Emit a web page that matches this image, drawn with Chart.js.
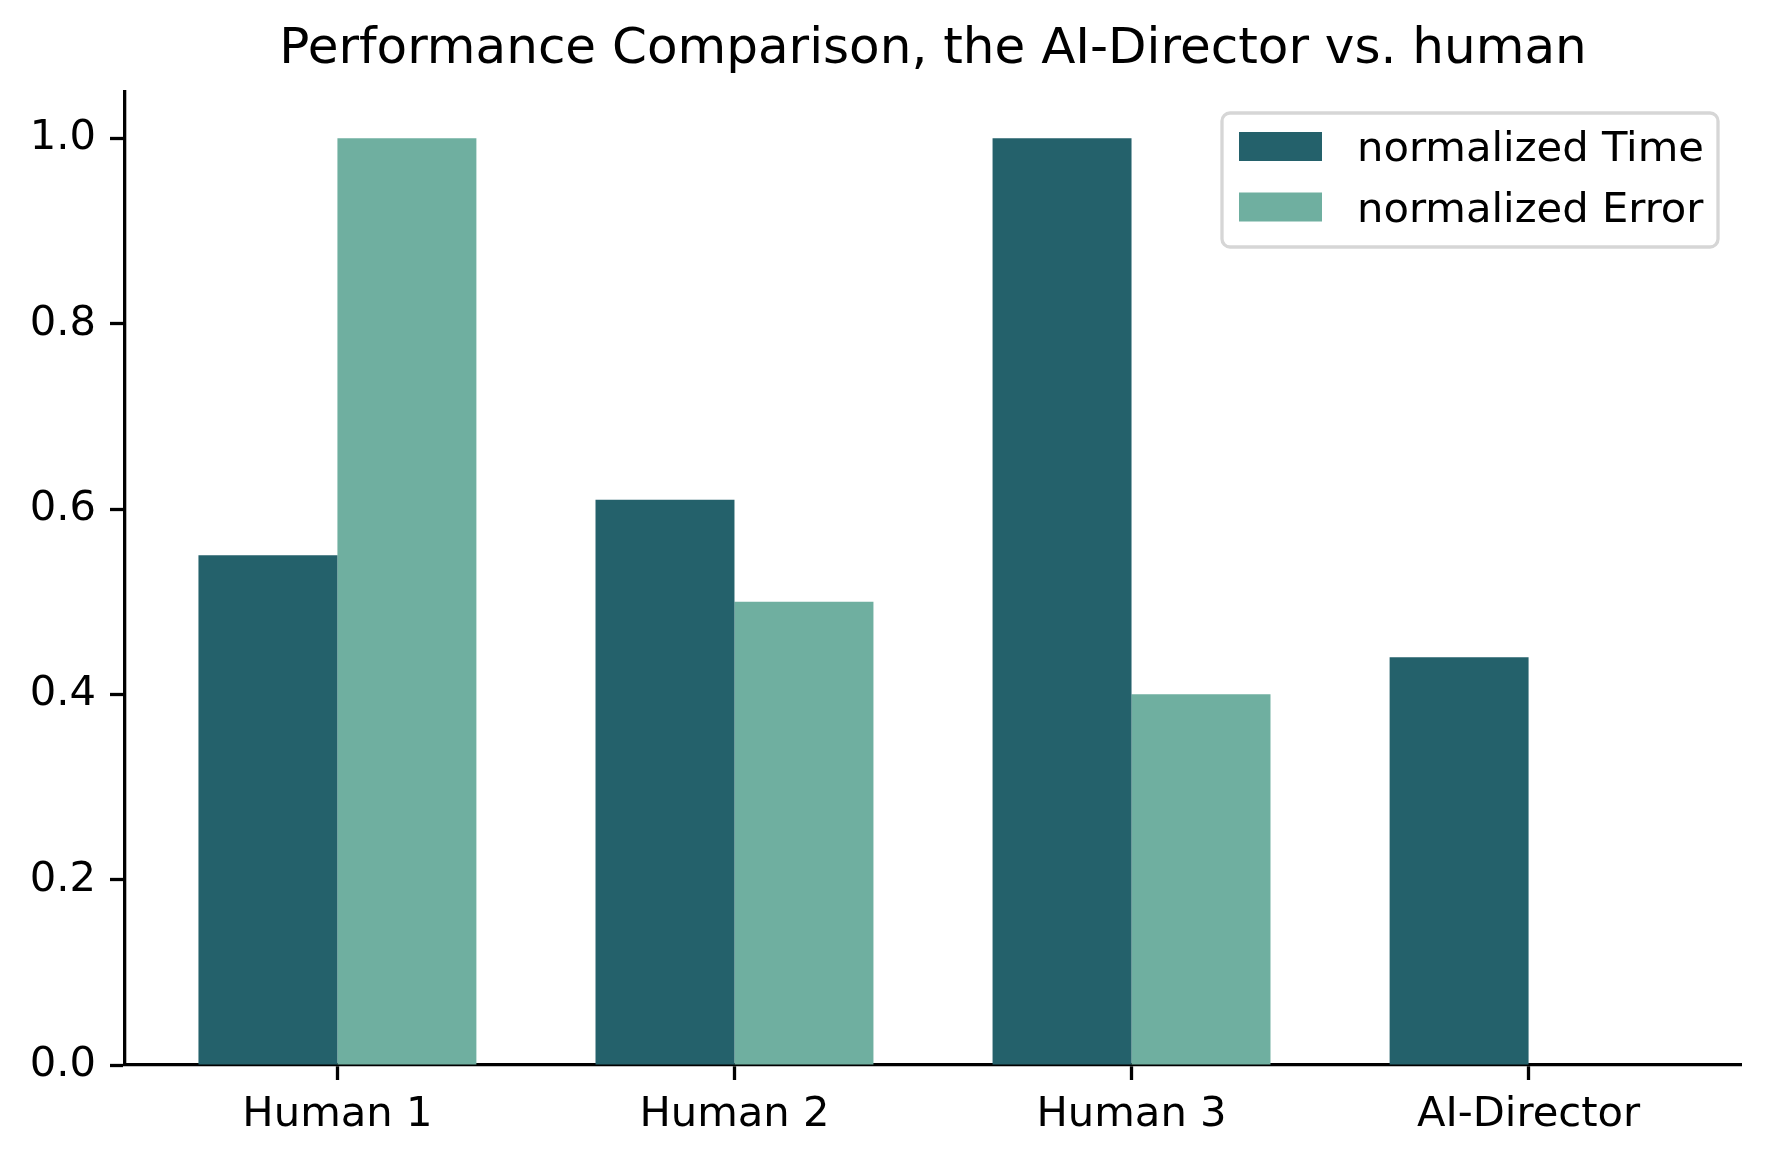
<!DOCTYPE html>
<html>
<head>
<meta charset="utf-8">
<script src="https://cdn.jsdelivr.net/npm/chart.js@4"></script>
<style>
  html, body { margin: 0; padding: 0; background: #fff; }
  #wrap { width: 1769px; height: 1164px; }
</style>
</head>
<body>
<div id="wrap"><canvas id="grafico"></canvas></div>
<script>
// datos
const categorias = ["Human 1", "Human 2", "Human 3", "AI-Director"];
const tiempoNorm = [0.55, 0.61, 1.0, 0.44];
const errorNorm = [1.0, 0.5, 0.4, 0.0];
const ticksY = [0, 0.2, 0.4, 0.6, 0.8, 1.0];

const fuente = "'DejaVu Sans', sans-serif";

function puntos(valores) {
    let res = [];
    for (let i = 0; i < valores.length; i++) {
        res.push({x: i, y: valores[i]});
    }
    return res;
}

// leyenda dentro del area, estilo matplotlib
const leyendaPlugin = {
    id: "leyendaCaja",
    afterDraw(chart) {
        const ctx = chart.ctx;
        const x0 = 1222, y0 = 113, w = 496, h = 134;
        ctx.save();
        ctx.beginPath();
        ctx.roundRect(x0, y0, w, h, 8);
        ctx.fillStyle = "rgba(255,255,255,0.8)";
        ctx.fill();
        ctx.lineWidth = 3.3;
        ctx.strokeStyle = "#d6d6d6";
        ctx.stroke();
        ctx.font = "41.7px " + fuente;
        ctx.textBaseline = "middle";
        ctx.textAlign = "left";
        chart.data.datasets.forEach(function (ds, i) {
            const cy = 146.5 + i * 60.5;
            ctx.fillStyle = ds.backgroundColor;
            ctx.fillRect(1239, cy - 14.5, 83, 29);
            ctx.fillStyle = "#000";
            ctx.fillText(ds.label, 1357, cy + 4);
        });
        ctx.restore();
    }
};

let ctx = document.getElementById("grafico");
new Chart(ctx, {
    type: 'bar',
    data: {
        datasets: [{
            label: "normalized Time",
            data: puntos(tiempoNorm),
            backgroundColor: '#24616b',
            borderWidth: 0
        }, {
            label: "normalized Error",
            data: puntos(errorNorm),
            backgroundColor: '#6fafa0',
            borderWidth: 0
        }]
    },
    options: {
        responsive: true,
        maintainAspectRatio: false,
        animation: false,
        devicePixelRatio: 1,
        categoryPercentage: 0.7,
        barPercentage: 1.0,
        layout: { padding: { left: 0, right: 28, top: 0, bottom: 0 } },
        plugins: {
            legend: { display: false },
            tooltip: { enabled: false },
            title: {
                display: true,
                text: "Performance Comparison, the AI-Director vs. human",
                color: '#000',
                fullSize: false,
                font: { family: fuente, size: 50, weight: 'normal', lineHeight: 1.2 },
                padding: { top: 20, bottom: 12 }
            }
        },
        scales: {
            x: {
                type: 'linear',
                min: -0.535,
                max: 3.535,
                offset: false,
                afterBuildTicks: function (scale) {
                    scale.ticks = categorias.map(function (c, i) { return {value: i}; });
                },
                afterFit: function (scale) { scale.height = 99; },
                ticks: {
                    color: '#000',
                    font: { family: fuente, size: 41.7 },
                    padding: 10,
                    maxRotation: 0,
                    autoSkip: false,
                    callback: function (v) { return categorias[v]; }
                },
                grid: {
                    display: true,
                    offset: false,
                    drawOnChartArea: false,
                    drawTicks: true,
                    tickLength: 15,
                    tickWidth: 3.3,
                    tickColor: '#000'
                },
                border: { display: true, color: '#000', width: 3.3 }
            },
            y: {
                min: 0,
                max: 1.05,
                afterBuildTicks: function (scale) {
                    scale.ticks = ticksY.map(function (v) { return {value: v}; });
                },
                afterFit: function (scale) { scale.width = 125; },
                ticks: {
                    color: '#000',
                    font: { family: fuente, size: 41.7 },
                    padding: 14,
                    callback: function (v) { return Number(v).toFixed(1); }
                },
                grid: {
                    display: true,
                    drawOnChartArea: false,
                    drawTicks: true,
                    tickLength: 15,
                    tickWidth: 3.3,
                    tickColor: '#000'
                },
                border: { display: true, color: '#000', width: 3.3 }
            }
        }
    },
    plugins: [leyendaPlugin]
});
</script>
</body>
</html>
